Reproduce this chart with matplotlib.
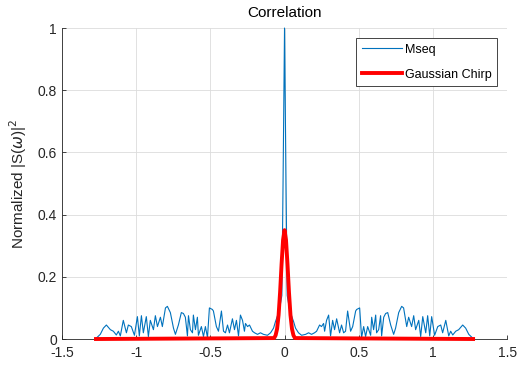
import numpy as np
import matplotlib
matplotlib.use("Agg")
import matplotlib.pyplot as plt

plt.rcParams['font.family'] = ['Liberation Sans', 'DejaVu Sans']
plt.rcParams['axes.unicode_minus'] = False
plt.rcParams['mathtext.fontset'] = 'dejavusans'

# Mseq spectrum, negative-frequency half (the spectrum is symmetric about 0)
mseq_f = np.array([
    -1.274, -1.241, -1.220, -1.200, -1.173, -1.153, -1.133, -1.119, -1.106,
    -1.086, -1.065, -1.052, -1.032, -1.011, -0.991, -0.978, -0.964, -0.951,
    -0.931, -0.917, -0.904, -0.883, -0.870, -0.856, -0.836, -0.823, -0.802,
    -0.789, -0.769, -0.748, -0.735, -0.715, -0.695, -0.681, -0.668, -0.654,
    -0.647, -0.634, -0.620, -0.614, -0.600, -0.587, -0.580, -0.560, -0.546,
    -0.533, -0.519, -0.506, -0.486, -0.479, -0.459, -0.445, -0.425, -0.411,
    -0.398, -0.384, -0.371, -0.351, -0.337, -0.324, -0.310, -0.297, -0.283,
    -0.270, -0.263, -0.249, -0.236, -0.216, -0.202, -0.182, -0.162, -0.142,
    -0.115, -0.094, -0.074, -0.061, -0.047, -0.034, -0.025, -0.018, -0.010,
    0.0])
mseq_p = np.array([
    0.000, 0.015, 0.035, 0.045, 0.030, 0.025, 0.013, 0.025, 0.010,
    0.060, 0.020, 0.045, 0.040, 0.012, 0.072, 0.010, 0.075, 0.020,
    0.072, 0.008, 0.060, 0.030, 0.075, 0.040, 0.070, 0.040, 0.100,
    0.105, 0.085, 0.035, 0.015, 0.045, 0.085, 0.082, 0.070, 0.010,
    0.075, 0.030, 0.020, 0.077, 0.030, 0.070, 0.012, 0.040, 0.008,
    0.040, 0.005, 0.100, 0.095, 0.090, 0.040, 0.025, 0.090, 0.025,
    0.020, 0.045, 0.020, 0.065, 0.030, 0.060, 0.010, 0.077, 0.060,
    0.025, 0.050, 0.040, 0.045, 0.025, 0.020, 0.015, 0.020, 0.015,
    0.012, 0.020, 0.035, 0.056, 0.075, 0.095, 0.120, 0.140, 0.500,
    1.000])

# Gaussian chirp, negative-frequency half
chirp_f = np.array([-1.27, -0.07, -0.06, -0.05, -0.04, -0.03, -0.02, -0.01, 0.0])
chirp_p = np.array([0.0, 0.003, 0.012, 0.033, 0.077, 0.150, 0.240, 0.318, 0.350])

xticks = [-1.5, -1, -0.5, 0, 0.5, 1, 1.5]
xticklabels = ['-1.5', '-1', '-0.5', '0', '0.5', '1', '1.5']
yticks = [0, 0.2, 0.4, 0.6, 0.8, 1]
yticklabels = ['0', '0.2', '0.4', '0.6', '0.8', '1']

# mirror the halves
f1 = np.concatenate([mseq_f, -mseq_f[-2::-1]])
p1 = np.concatenate([mseq_p, mseq_p[-2::-1]])
f2 = np.concatenate([chirp_f, -chirp_f[-2::-1]])
p2 = np.concatenate([chirp_p, chirp_p[-2::-1]])

axcol = '#262626'

fig = plt.figure(figsize=(5.24, 3.65), dpi=100)
ax = fig.add_axes([0.118, 0.0712, 0.850, 0.852])

ax.plot(f1, p1, color='#0072BD', lw=0.8, label='Mseq', clip_on=False, zorder=3)
ax.plot(f2, p2, color='#FF0000', lw=2.8, label='Gaussian Chirp', clip_on=False, zorder=4)

ax.set_xlim(-1.5, 1.5)
ax.set_ylim(0, 1)
ax.set_xticks(xticks)
ax.set_xticklabels(xticklabels)
ax.set_yticks(yticks)
ax.set_yticklabels(yticklabels)
ax.tick_params(direction='in', length=3, width=0.6, colors=axcol, labelsize=10)
ax.tick_params(axis='x', pad=5)

ax.grid(True, color='#dcdcdc', lw=0.6)
ax.set_axisbelow(True)
for s in ['top', 'right']:
    ax.spines[s].set_visible(False)
for s in ['left', 'bottom']:
    ax.spines[s].set_color(axcol)
    ax.spines[s].set_linewidth(0.6)

ax.set_title('Correlation', fontsize=11, color='black', pad=8)
ax.set_ylabel(r'Normalized |S($\omega$)|$^2$', fontsize=11, color=axcol, labelpad=6)

leg = ax.legend(loc='upper right', bbox_to_anchor=(0.977, 0.968), fontsize=9,
                frameon=True, fancybox=False, handlelength=3.2, handletextpad=0.2,
                borderpad=0.45, labelspacing=1.05, borderaxespad=0)
leg.get_frame().set_edgecolor('#262626')
leg.get_frame().set_linewidth(0.6)
leg.get_frame().set_alpha(1)
leg.set_zorder(10)

fig.savefig('out.png', dpi=100)
